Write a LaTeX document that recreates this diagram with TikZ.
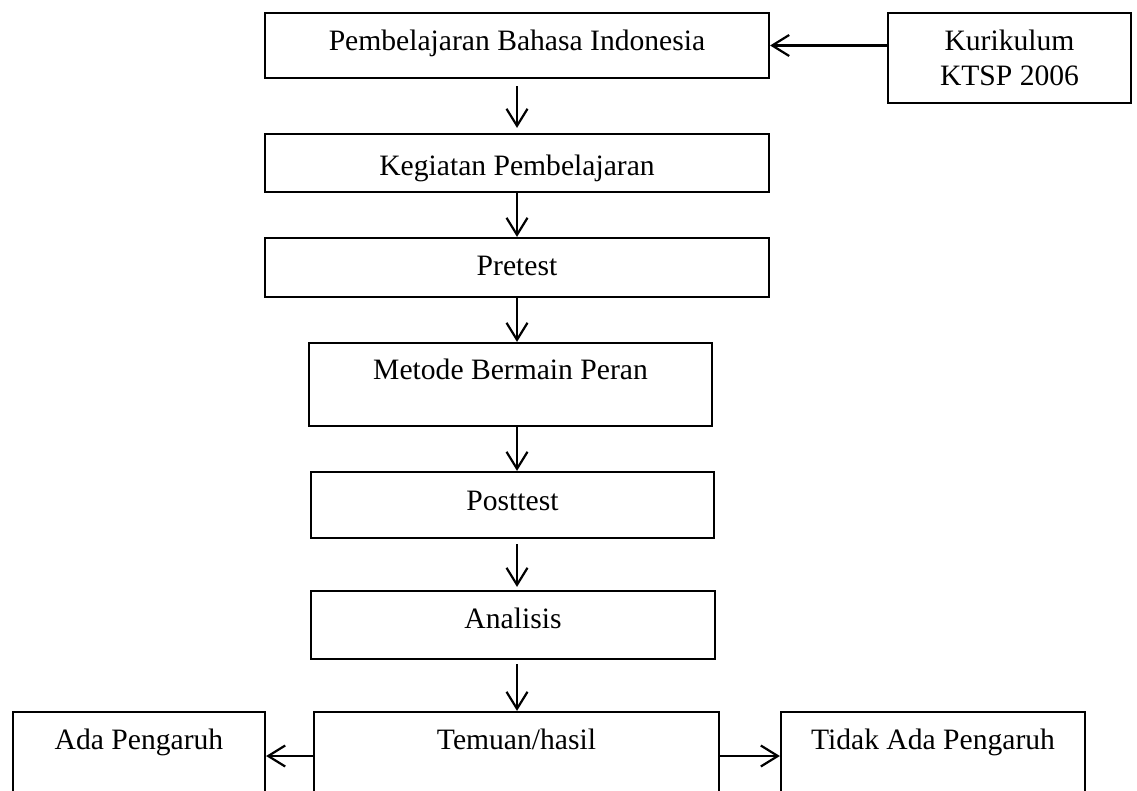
\documentclass[tikz,border=0pt]{standalone}
\usepackage{fontspec}
\setmainfont{Liberation Serif}
\usetikzlibrary{arrows.meta}
\begin{document}
\begin{tikzpicture}[x=1pt,y=-1pt,
  box/.style={draw,line width=2.2pt,inner sep=0pt,rectangle,
    font=\fontsize{29.6}{35}\selectfont,text height=30pt},
  arr/.style={line width=2.2pt,-{Straight Barb[length=17pt,width=21pt]}}]
\useasboundingbox (0,0) rectangle (1137,791);
\clip (0,0) rectangle (1137,791);
% nodes
\node[box,minimum width=504pt,minimum height=65pt,text depth=19.8pt] (b1) at (517,45.5) {Pembelajaran Bahasa Indonesia};
\node[box,minimum width=243pt,minimum height=90pt,align=center,text height=,text depth=] (kuri) at (1009.5,58) {Kurikulum\\KTSP 2006};
\node[box,minimum width=504pt,minimum height=58pt,text depth=4.8pt] (b2) at (517,163) {Kegiatan Pembelajaran};
\node[box,minimum width=504pt,minimum height=59pt,text depth=13.8pt] (b3) at (517,267.5) {Pretest};
\node[box,minimum width=403pt,minimum height=83pt,text depth=39.8pt] (b4) at (510.5,384.5) {Metode Bermain Peran};
\node[box,minimum width=403pt,minimum height=66pt,text depth=18.8pt] (b5) at (512.5,505) {Posttest};
\node[box,minimum width=404pt,minimum height=68pt,text depth=22.8pt] (b6) at (513,625) {Analisis};
\node[box,minimum width=405pt,minimum height=88pt,text depth=42.8pt] (b7) at (516.5,756) {Temuan/hasil};
\node[box,minimum width=252pt,minimum height=88pt,text depth=42.8pt] (ada) at (139,756) {Ada Pengaruh};
\node[box,minimum width=304pt,minimum height=88pt,text depth=42.8pt] (tidak) at (933,756) {Tidak Ada Pengaruh};
% connectors
\draw[arr] (kuri.west |- b1.east) -- (b1.east);
\draw[arr,shorten <=7pt,shorten >=5pt] (b1.south) -- (b2.north -| b1.south);
\draw[arr] (b2.south -| b1.south) -- (b3.north -| b1.south);
\draw[arr] (b3.south -| b1.south) -- (b4.north -| b1.south);
\draw[arr] (b4.south -| b1.south) -- (b5.north -| b1.south);
\draw[arr,shorten <=5pt,shorten >=3pt] (b5.south -| b1.south) -- (b6.north -| b1.south);
\draw[arr,shorten <=4pt] (b6.south -| b1.south) -- (b7.north -| b1.south);
\draw[arr] (b7.west) -- (ada.east);
\draw[arr] (b7.east) -- (tidak.west);
\end{tikzpicture}
\end{document}
